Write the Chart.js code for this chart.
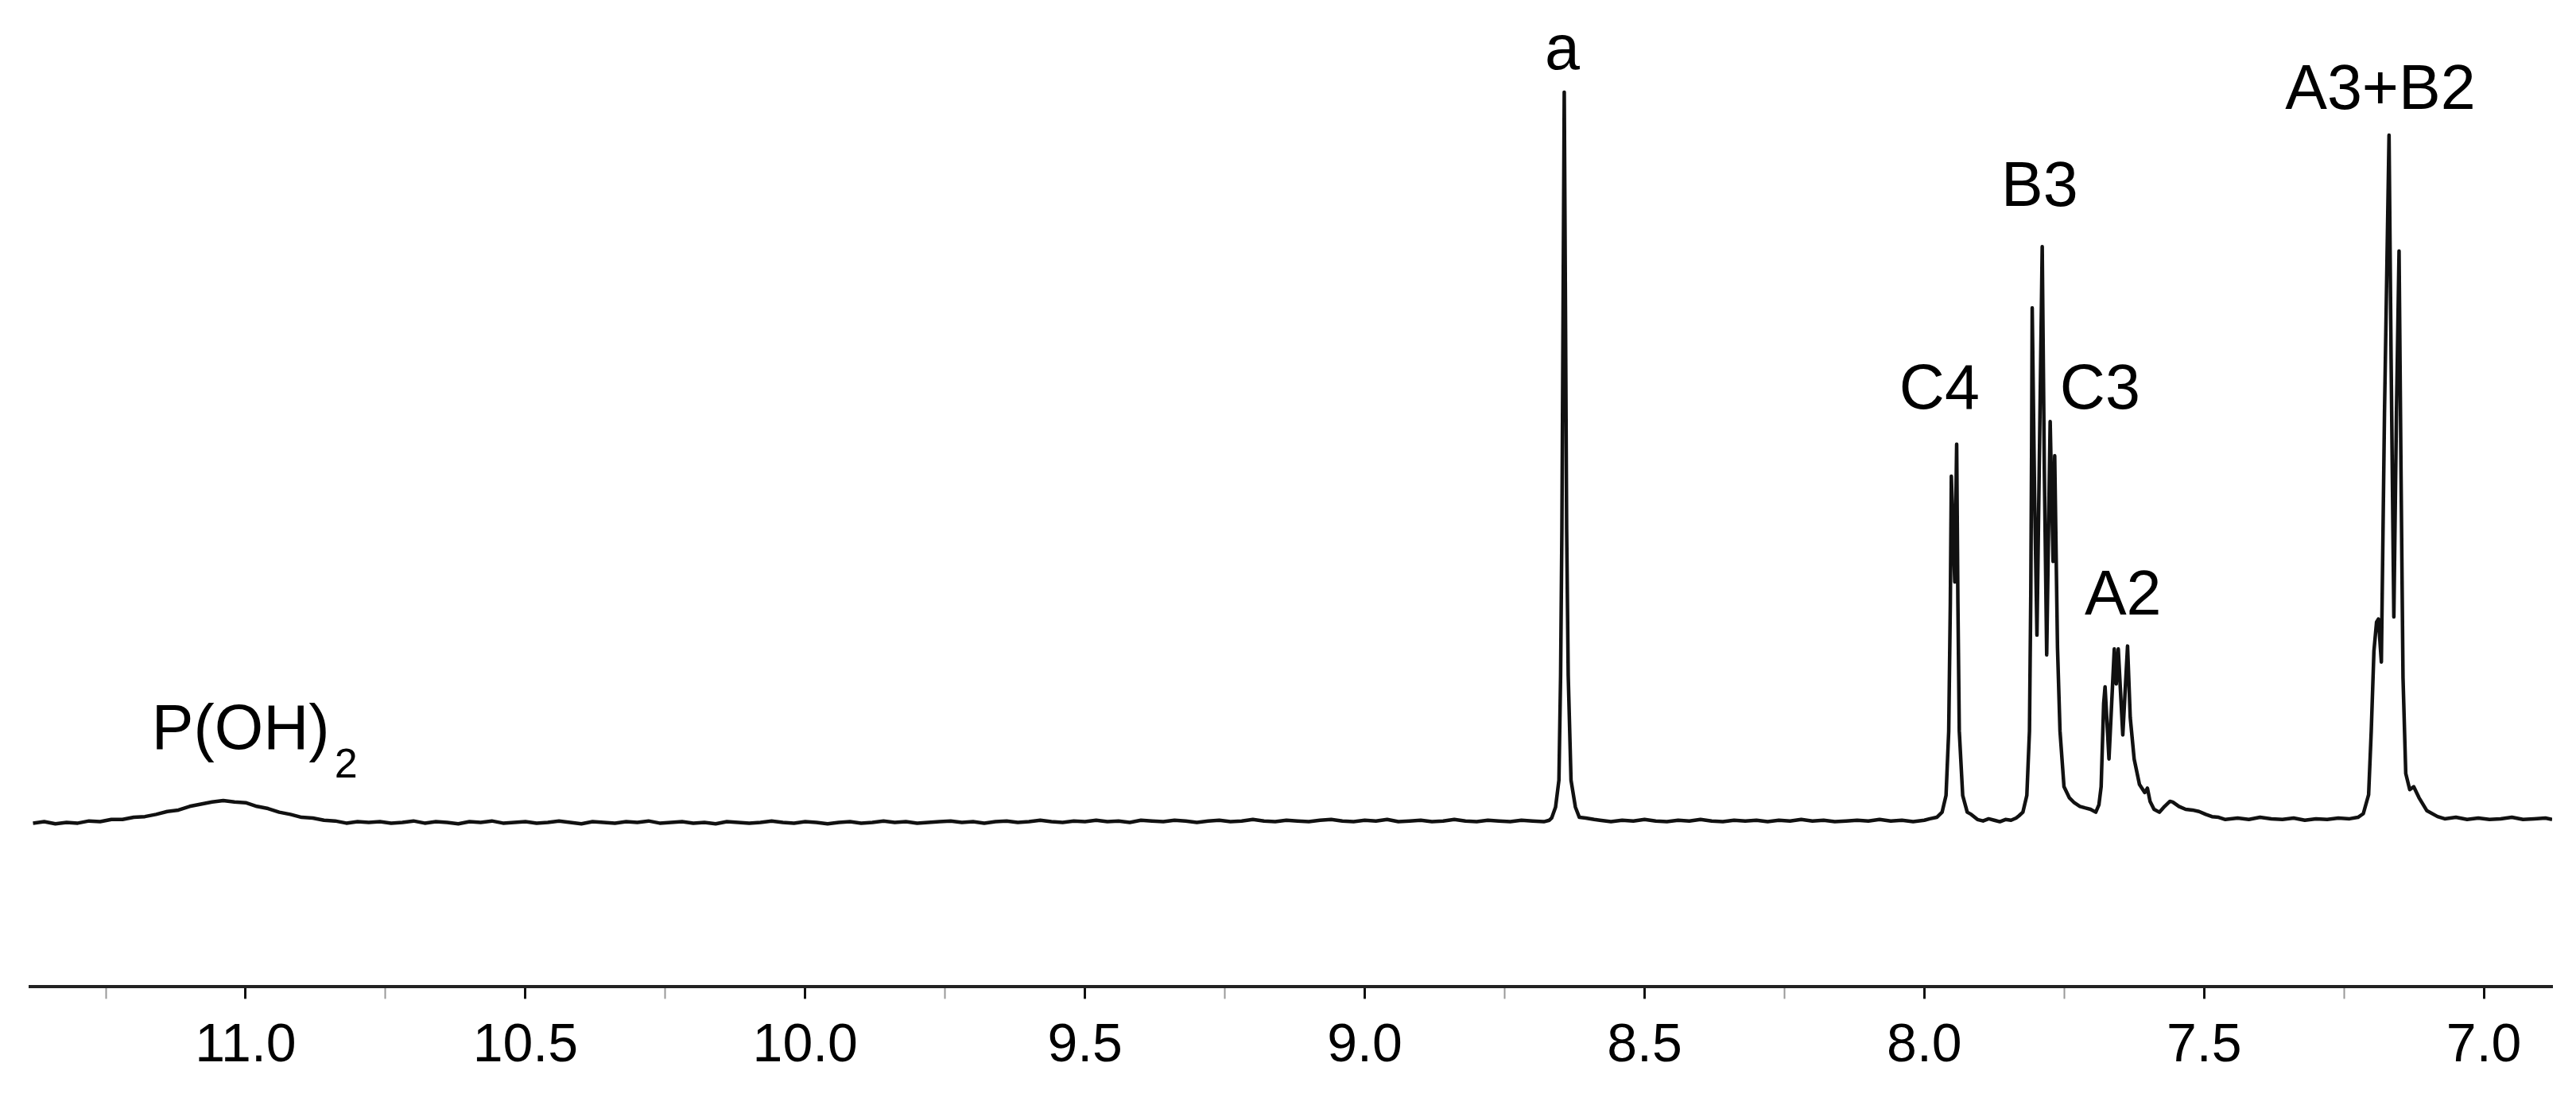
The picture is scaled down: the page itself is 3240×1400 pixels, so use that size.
<!DOCTYPE html>
<html>
<head>
<meta charset="utf-8">
<title>1H NMR spectrum</title>
<script src="https://cdn.jsdelivr.net/npm/chart.js@4.4.1/dist/chart.umd.min.js"></script>
<style>
    html, body { margin: 0; padding: 0; background: #fff; }
    #nmr { display: block; }
</style>
</head>
<body>
<canvas id="nmr" width="3240" height="1400"></canvas>
<script>
// chemical shift (ppm) / intensity pairs, left to right
const baselineLow = [
    [11.38, -0.3], [11.36, -0.1], [11.34, -0.4], [11.32, -0.2], [11.30, -0.3], [11.28, 0.0],
    [11.26, -0.1], [11.24, 0.2], [11.22, 0.2], [11.20, 0.5], [11.18, 0.6], [11.16, 0.9],
    [11.14, 1.3], [11.12, 1.5], [11.10, 2.0], [11.08, 2.3], [11.06, 2.6], [11.04, 2.8],
    [11.02, 2.6], [11.00, 2.5], [10.98, 2.0], [10.96, 1.7], [10.94, 1.2], [10.92, 0.9],
    [10.90, 0.5], [10.88, 0.4], [10.86, 0.1], [10.84, 0.0], [10.82, -0.3], [10.80, -0.1],
    [10.78, -0.2], [10.76, -0.1], [10.74, -0.3], [10.72, -0.2], [10.70, 0.0], [10.68, -0.3],
    [10.66, -0.1], [10.64, -0.2], [10.62, -0.4], [10.60, -0.1], [10.58, -0.2], [10.56, 0.0],
    [10.54, -0.3], [10.52, -0.2], [10.50, -0.1], [10.48, -0.3], [10.46, -0.2], [10.44, 0.0],
    [10.42, -0.2], [10.40, -0.4], [10.38, -0.1], [10.36, -0.2], [10.34, -0.3], [10.32, -0.1],
    [10.30, -0.2], [10.28, 0.0], [10.26, -0.3], [10.24, -0.2], [10.22, -0.1], [10.20, -0.3],
    [10.18, -0.2], [10.16, -0.4], [10.14, -0.1], [10.12, -0.2], [10.10, -0.3], [10.08, -0.2],
    [10.06, 0.0], [10.04, -0.2], [10.02, -0.3], [10.00, -0.1], [9.98, -0.2], [9.96, -0.4],
    [9.94, -0.2], [9.92, -0.1], [9.90, -0.3], [9.88, -0.2], [9.86, 0.0], [9.84, -0.2],
    [9.82, -0.1], [9.80, -0.3], [9.78, -0.2], [9.76, -0.1], [9.74, 0.0], [9.72, -0.2],
    [9.70, -0.1], [9.68, -0.3], [9.66, -0.1], [9.64, 0.0], [9.62, -0.2], [9.60, -0.1],
    [9.58, 0.1], [9.56, -0.1], [9.54, -0.2], [9.52, 0.0], [9.50, -0.1], [9.48, 0.1],
    [9.46, -0.1], [9.44, 0.0], [9.42, -0.2], [9.40, 0.1], [9.38, 0.0], [9.36, -0.1],
    [9.34, 0.1], [9.32, 0.0], [9.30, -0.2], [9.28, 0.0], [9.26, 0.1], [9.24, -0.1],
    [9.22, 0.0], [9.20, 0.2], [9.18, 0.0], [9.16, -0.1], [9.14, 0.1], [9.12, 0.0],
    [9.10, -0.1], [9.08, 0.1], [9.06, 0.2], [9.04, 0.0], [9.02, -0.1], [9.00, 0.1],
    [8.98, 0.0], [8.96, 0.2], [8.94, -0.1], [8.92, 0.0], [8.90, 0.1], [8.88, -0.1],
    [8.86, 0.0], [8.84, 0.2], [8.82, 0.0], [8.80, -0.1], [8.78, 0.1], [8.76, 0.0],
    [8.74, -0.1], [8.72, 0.1], [8.70, 0.0], [8.68, -0.1]
];

const peakA = [
    [8.670, 0.1], [8.666, 0.4], [8.659, 1.9], [8.653, 5.6], [8.650, 20], [8.6477, 40],
    [8.6456, 70], [8.6435, 100], [8.6413, 70], [8.6392, 40], [8.6364, 20], [8.6314, 5.6],
    [8.6236, 1.9], [8.6165, 0.5], [8.605, 0.4], [8.59, 0.2]
];

const baselineMid = [
    [8.58, 0.1], [8.56, -0.1], [8.54, 0.1], [8.52, 0.0], [8.50, 0.2], [8.48, 0.0],
    [8.46, -0.1], [8.44, 0.1], [8.42, 0.0], [8.40, 0.2], [8.38, 0.0], [8.36, -0.1],
    [8.34, 0.1], [8.32, 0.0], [8.30, 0.1], [8.28, -0.1], [8.26, 0.1], [8.24, 0.0],
    [8.22, 0.2], [8.20, 0.0], [8.18, 0.1], [8.16, -0.1], [8.14, 0.0], [8.12, 0.1],
    [8.10, 0.0], [8.08, 0.2], [8.06, 0.0], [8.04, 0.1], [8.02, -0.1], [8.00, 0.1],
    [7.99, 0.3]
];

const peakC4 = [
    [7.9777, 0.5], [7.9683, 1.2], [7.9612, 3.5], [7.9564, 12.3], [7.9535, 30], [7.9517, 47.3],
    [7.9456, 32.8], [7.9422, 51.7], [7.9400, 30], [7.9375, 12.3], [7.9314, 3.5], [7.9233, 1.2],
    [7.9162, 0.9], [7.905, 0.2], [7.895, 0.0], [7.885, 0.3], [7.875, 0.1], [7.865, -0.1],
    [7.855, 0.2], [7.845, 0.1], [7.836, 0.4]
];

const peakB3C3 = [
    [7.831, 0.7], [7.8239, 1.2], [7.8168, 3.5], [7.8121, 12.3], [7.8097, 31.4], [7.8082, 52],
    [7.8072, 70.4], [7.8030, 45], [7.7987, 25.5], [7.7940, 52], [7.7893, 78.8], [7.7855, 48],
    [7.7813, 22.8], [7.7780, 40], [7.7751, 54.8], [7.7699, 35.6], [7.7670, 50.1], [7.7620, 23.8],
    [7.7575, 12.3], [7.7504, 4.7], [7.741, 3.2], [7.732, 2.5], [7.722, 2.0], [7.713, 1.8],
    [7.703, 1.6], [7.6936, 1.2]
];

const peakA2 = [
    [7.6880, 2.2], [7.684, 4.7], [7.6795, 16.1], [7.677, 18.4], [7.670, 8.5], [7.6605, 23.6],
    [7.657, 18.8], [7.6534, 23.6], [7.6453, 11.8], [7.6368, 24.0], [7.632, 14.2], [7.625, 8.5],
    [7.6155, 5.0], [7.606, 3.9], [7.6013, 4.5], [7.5966, 2.7], [7.5895, 1.6], [7.580, 1.2],
    [7.5706, 2.0], [7.561, 2.7], [7.556, 2.6], [7.545, 2.0], [7.533, 1.6], [7.521, 1.5],
    [7.509, 1.3], [7.497, 0.9], [7.486, 0.6], [7.474, 0.5], [7.462, 0.2]
];

const baselineHigh = [
    [7.44, 0.4], [7.42, 0.2], [7.40, 0.5], [7.38, 0.3], [7.36, 0.2], [7.34, 0.4],
    [7.32, 0.1], [7.30, 0.3], [7.28, 0.2], [7.26, 0.4], [7.24, 0.3], [7.225, 0.5]
];

const peakA3B2 = [
    [7.2155, 1.0], [7.206, 3.6], [7.2013, 12.3], [7.1965, 23.3], [7.1918, 27.3], [7.1885, 27.7],
    [7.1832, 21.8], [7.1776, 56.1], [7.1695, 94.1], [7.1658, 63.4], [7.1609, 28.0], [7.1562, 56.1],
    [7.1516, 78.2], [7.1482, 48.8], [7.1445, 19.6], [7.1396, 6.5], [7.1325, 4.3], [7.1254, 4.7],
    [7.116, 3.2], [7.1018, 1.4], [7.0828, 0.6]
];

const baselineEnd = [
    [7.07, 0.3], [7.05, 0.5], [7.03, 0.2], [7.01, 0.4], [6.99, 0.2], [6.97, 0.3],
    [6.95, 0.5], [6.93, 0.2], [6.91, 0.3], [6.89, 0.4], [6.878, 0.2]
];

// axis
const shiftMin = 6.878;
const shiftMax = 11.385;
const tickValues = [11.25, 11.0, 10.75, 10.5, 10.25, 10.0, 9.75, 9.5, 9.25, 9.0,
    8.75, 8.5, 8.25, 8.0, 7.75, 7.5, 7.25, 7.0];
const majorTicks = [11.0, 10.5, 10.0, 9.5, 9.0, 8.5, 8.0, 7.5, 7.0];

// peak assignments: text, shift of label centre, intensity of text baseline
const labelText = ['P(OH)', 'a', 'C4', 'B3', 'C3', 'A2', 'A3+B2'];
const labelShift = [10.984, 8.647, 7.973, 7.794, 7.686, 7.645, 7.185];
const labelHeight = [9.9, 103.1, 56.6, 84.4, 56.6, 28.3, 97.7];
const labelSubscript = ['2', '', '', '', '', '', ''];

const spectrum = [
    ...baselineLow, ...peakA, ...baselineMid, ...peakC4,
    ...peakB3C3, ...peakA2, ...baselineHigh, ...peakA3B2, ...baselineEnd
].map(([x, y]) => ({ x, y }));

const FONT = "'Liberation Sans', Arial, sans-serif";

const peakLabels = {
    id: 'peakLabels',
    afterDatasetsDraw(chart) {
        const { ctx, scales: { x, y } } = chart;
        ctx.save();
        ctx.fillStyle = '#000';
        ctx.textBaseline = 'alphabetic';
        labelText.forEach((text, i) => {
            const px = x.getPixelForValue(labelShift[i]);
            const py = y.getPixelForValue(labelHeight[i]);
            ctx.font = `79px ${FONT}`;
            const mainW = ctx.measureText(text).width;
            const sub = labelSubscript[i];
            if (!sub) {
                ctx.textAlign = 'center';
                ctx.fillText(text, px, py);
                return;
            }
            ctx.font = `52px ${FONT}`;
            const subW = ctx.measureText(sub).width;
            const gap = 6;
            const start = px - (mainW + gap + subW) / 2;
            ctx.textAlign = 'left';
            ctx.font = `79px ${FONT}`;
            ctx.fillText(text, start, py);
            ctx.font = `52px ${FONT}`;
            ctx.fillText(sub, start + mainW + gap, py + 36);
        });
        ctx.restore();
    }
};

new Chart(document.getElementById('nmr'), {
    type: 'line',
    data: {
        datasets: [{
            data: spectrum,
            borderColor: '#111',
            borderWidth: 4.5,
            borderJoinStyle: 'round',
            pointRadius: 0,
            tension: 0,
            fill: false
        }]
    },
    options: {
        responsive: false,
        animation: false,
        layout: { padding: { left: 38, right: 30, top: 0, bottom: 24 } },
        plugins: {
            legend: { display: false },
            tooltip: { enabled: false }
        },
        scales: {
            x: {
                type: 'linear',
                reverse: true,
                min: shiftMin,
                max: shiftMax,
                afterBuildTicks: (scale) => {
                    scale.ticks = tickValues.map(v => ({ value: v }));
                },
                ticks: {
                    autoSkip: false,
                    maxRotation: 0,
                    padding: 19,
                    color: '#000',
                    font: { family: FONT, size: 68 },
                    callback: (v) => majorTicks.includes(v) ? v.toFixed(1) : ''
                },
                grid: {
                    drawOnChartArea: false,
                    drawTicks: true,
                    tickLength: 15,
                    tickWidth: (c) => majorTicks.includes(c.tick && c.tick.value) ? 3 : 2,
                    tickColor: (c) => majorTicks.includes(c.tick && c.tick.value) ? '#111' : '#999'
                },
                border: { display: true, color: '#222', width: 4 }
            },
            y: {
                display: false,
                min: -22.77,
                max: 112.64
            }
        }
    },
    plugins: [peakLabels]
});
</script>
</body>
</html>
